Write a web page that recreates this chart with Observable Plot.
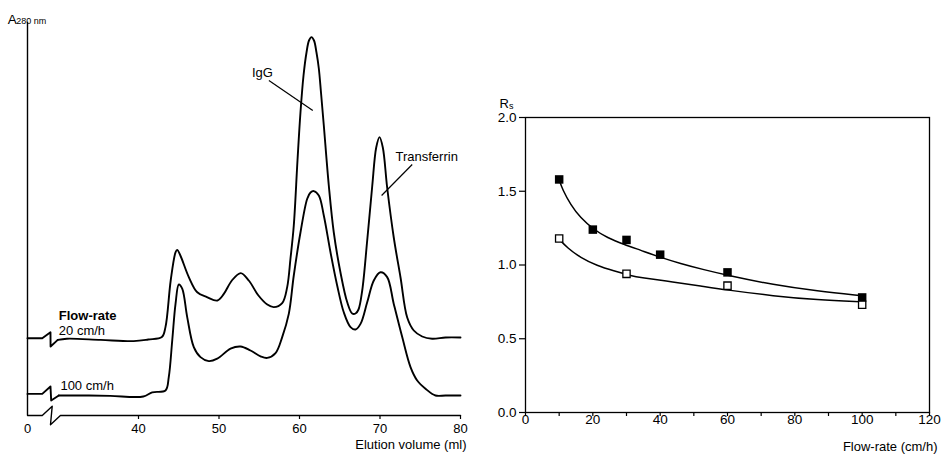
<!DOCTYPE html>
<html>
<head>
<meta charset="utf-8">
<script src="https://cdn.jsdelivr.net/npm/d3@7"></script>
<script src="https://cdn.jsdelivr.net/npm/@observablehq/plot@0.6"></script>
<style>
  html, body { margin: 0; padding: 0; background: #fff; }
  #figure { display: flex; width: 947px; height: 456px; }
  #figure svg { display: block; }
</style>
</head>
<body>
<div id="figure"></div>
<script>
// ---- Panel A: elution profiles at two flow-rates (A280, traces offset) ----
// Break symbol on the volume axis and at the start of each trace
const axisVol = [0, 14.5, 24.3, 22.6, 30.3, 80];
const axisAbs = [0, 0, 2.3, -2.3, 0, 0];

const break20Vol = [0, 14.5, 22.6, 22.7, 29.8];
const break20Abs = [19.3, 19.3, 20.8, 17.25, 18.9];
const break100Vol = [0, 14.5, 22.6, 23.3, 30.1];
const break100Abs = [5.4, 5.4, 7.25, 3.75, 5.0];

// 20 cm/h trace after the break
const vol20 = [29.8, 31.1, 35.3, 39.4, 41.2, 42.9, 43.35, 44.0, 44.6, 44.8, 45.2, 46.25, 47.3, 48.5, 49.8,
  50.6, 51.6, 52.7, 53.7, 54.9, 56.0, 56.8, 57.85, 58.47, 58.88, 59.29, 59.75, 60.12, 60.5, 60.87,
  61.18, 61.49, 61.8, 62.11, 62.4, 62.67, 63.02, 63.64, 64.26, 65.09, 65.93, 66.55, 66.96, 67.33,
  67.79, 68.41, 69.03, 69.53, 69.94, 70.35, 70.89, 71.71, 72.55, 73.38, 74.2, 75.24, 76.48, 78.14, 80];
const abs20 = [18.9, 19.2, 18.9, 18.6, 19.0, 19.6, 22.1, 33.75, 40.8, 41.4, 40.0, 34.6, 30.8, 29.6, 28.75,
  30.4, 33.75, 35.6, 33.75, 30.0, 27.75, 27.1, 28.1, 32.1, 39.25, 47.5, 63.75, 75.75, 85, 90.75,
  93.75, 94.6, 93.75, 90.75, 86.75, 80.75, 72.5, 57.5, 45.75, 35.75, 28.3, 25.5, 25.5, 26.5,
  31.25, 43.75, 57.25, 67, 69.6, 67, 57, 44.5, 34.5, 24.5, 21.25, 19.75, 19.2, 19.5, 19.5];

// 100 cm/h trace after the break
const vol100 = [30.1, 33.2, 36.5, 40.6, 41.7, 43.35, 43.76, 44.19, 44.6, 45.01, 45.43, 46.05, 46.87, 47.7,
  48.73, 49.78, 51.43, 52.67, 53.91, 55.16, 55.99, 57.02, 57.85, 58.67, 59.29, 60.12, 60.96, 61.37,
  61.78, 62.4, 63.02, 63.85, 64.68, 65.5, 66.34, 66.96, 67.58, 68.41, 69.23, 70.06, 70.89, 71.71,
  72.76, 73.79, 74.62, 75.65, 76.89, 78.14, 80];
const abs100 = [5.0, 5.0, 4.9, 4.75, 5.8, 6.25, 9.6, 18.75, 27.9, 32.75, 31.7, 24.6, 17.1, 14.6,
  13.6, 14.2, 16.7, 17.25, 16.25, 14.8, 14.4, 15.6, 19.6, 25.4, 35, 45.75, 54.2, 55.75,
  56.1, 55, 50, 40.8, 32.5, 25.8, 22.1, 21.5, 22.9, 28.3, 33.75, 35.8, 34.6, 27.9,
  19.6, 12.1, 8.75, 6.7, 5.0, 5.0, 5.0];

const volTicks = [0, 40, 50, 60, 70, 80];

// Peak labels and their leader lines
const peakLabels = ["IgG", "Transferrin"];
const peakLabelVol = [55.4, 75.8];
const peakLabelAbs = [85.75, 64.75];
const leaderVol1 = [56.2, 74.0];
const leaderAbs1 = [83.75, 62.75];
const leaderVol2 = [61.65, 70.2];
const leaderAbs2 = [76.25, 55.0];

// Flow-rate captions beside the traces
const flowTitle = "Flow-rate";
const flowTitleVol = 30.1;
const flowTitleAbs = 24.8;
const flowLabels = ["20 cm/h", "100 cm/h"];
const flowLabelVol = [30.1, 30.3];
const flowLabelAbs = [21.1, 7.5];

// ---- Panel B: resolution Rs versus flow-rate ----
const rateFilled = [10, 20, 30, 40, 60, 100];
const rsFilled = [1.58, 1.24, 1.17, 1.07, 0.95, 0.78];
const rateOpen = [10, 30, 60, 100];
const rsOpen = [1.18, 0.94, 0.86, 0.73];

// Fitted curves through each set
const fitFilledRate = [10, 11, 13.4, 16.3, 20.3, 24.3, 29.2, 34.2, 39.6, 46, 53, 60, 73.7, 86.6, 100];
const fitFilledRs = [1.58, 1.51, 1.41, 1.32, 1.24, 1.185, 1.14, 1.10, 1.055, 1.01, 0.968, 0.93, 0.865, 0.823, 0.792];
const fitOpenRate = [10, 12.4, 16.3, 21.3, 26.2, 31.2, 34.2, 44, 52, 60, 73.7, 86.6, 100];
const fitOpenRs = [1.175, 1.117, 1.05, 0.995, 0.96, 0.928, 0.915, 0.885, 0.858, 0.83, 0.79, 0.764, 0.75];

const rateTicks = [0, 10, 20, 30, 40, 50, 60, 70, 80, 90, 100, 110, 120];
const rsTicks = [0, 0.5, 1.0, 1.5, 2.0];

const rows = (xs, ys) => xs.map((x, i) => ({x, y: ys[i]}));
const font = "'Liberation Sans', Arial, Helvetica, sans-serif";
const baseStyle = {fontFamily: font, fontSize: "13px", color: "black", background: "white", overflow: "visible"};

const left = Plot.plot({
  width: 475,
  height: 456,
  marginLeft: 27,
  marginRight: 15,
  marginTop: 15,
  marginBottom: 41,
  style: baseStyle,
  x: {type: "linear", domain: [0, 30, 80], range: [27, 57.5, 460]},
  y: {domain: [0, 100], axis: null},
  marks: [
    Plot.ruleX([0], {y1: 0, y2: 98.3, stroke: "black", strokeWidth: 1.4}),
    Plot.line(rows(axisVol, axisAbs), {x: "x", y: "y", stroke: "black", strokeWidth: 1.4}),
    Plot.line(rows(break20Vol, break20Abs), {x: "x", y: "y", stroke: "black", strokeWidth: 1.9}),
    Plot.line(rows(break100Vol, break100Abs), {x: "x", y: "y", stroke: "black", strokeWidth: 1.9}),
    Plot.line(rows(vol20, abs20), {x: "x", y: "y", curve: "catmull-rom", stroke: "black", strokeWidth: 1.9}),
    Plot.line(rows(vol100, abs100), {x: "x", y: "y", curve: "catmull-rom", stroke: "black", strokeWidth: 1.9}),
    Plot.axisX(volTicks.slice(1), {tickSize: 4, tickFormat: () => "", label: null, strokeWidth: 1.2}),
    Plot.axisX(volTicks, {tickSize: 0, tickPadding: 8, label: null, fontSize: 13}),
    Plot.link(peakLabels, {
      x1: (d, i) => leaderVol1[i], y1: (d, i) => leaderAbs1[i],
      x2: (d, i) => leaderVol2[i], y2: (d, i) => leaderAbs2[i],
      stroke: "black", strokeWidth: 1.2
    }),
    Plot.text(peakLabels, {
      x: (d, i) => peakLabelVol[i], y: (d, i) => peakLabelAbs[i], text: d => d,
      fontSize: 13, fill: "black"
    }),
    Plot.text([flowTitle], {
      x: () => flowTitleVol, y: () => flowTitleAbs, text: d => d,
      textAnchor: "start", fontSize: 13, fontWeight: "bold", fill: "black"
    }),
    Plot.text(flowLabels, {
      x: (d, i) => flowLabelVol[i], y: (d, i) => flowLabelAbs[i], text: d => d,
      textAnchor: "start", fontSize: 13, fill: "black"
    }),
    Plot.text(["A"], {frameAnchor: "top-left", text: d => d, dx: -19.7, dy: -1.5, textAnchor: "start", fontSize: 13.5, fill: "black"}),
    Plot.text(["280 nm"], {frameAnchor: "top-left", text: d => d, dx: -11.3, dy: 2.5, textAnchor: "start", fontSize: 9, fill: "black"}),
    Plot.text(["Elution volume (ml)"], {frameAnchor: "bottom-right", text: d => d, dx: 6, dy: 33, textAnchor: "end", fontSize: 13, fill: "black"})
  ]
});

const right = Plot.plot({
  width: 472,
  height: 456,
  marginLeft: 50,
  marginRight: 18,
  marginTop: 117,
  marginBottom: 44,
  style: baseStyle,
  x: {domain: [0, 120]},
  y: {domain: [0, 2]},
  marks: [
    Plot.frame({stroke: "black", strokeWidth: 1.3}),
    Plot.axisY(rsTicks, {tickSize: 6, tickPadding: 3, tickFormat: d3.format(".1f"), label: null, fontSize: 13.5, strokeWidth: 1.2}),
    Plot.axisX(rateTicks, {tickSize: 4, tickPadding: -2, tickFormat: d => (d % 20 ? "" : d), label: null, fontSize: 13.5, strokeWidth: 1.2}),
    Plot.line(rows(fitFilledRate, fitFilledRs), {x: "x", y: "y", curve: "basis", stroke: "black", strokeWidth: 1.5}),
    Plot.line(rows(fitOpenRate, fitOpenRs), {x: "x", y: "y", curve: "basis", stroke: "black", strokeWidth: 1.5}),
    Plot.dot(rows(rateFilled, rsFilled), {x: "x", y: "y", symbol: "square", r: 4.8, fill: "black", stroke: "none"}),
    Plot.dot(rows(rateOpen, rsOpen), {x: "x", y: "y", symbol: "square", r: 4.1, fill: "white", stroke: "black", strokeWidth: 1.3}),
    Plot.text(["R"], {frameAnchor: "top-left", text: d => d, dx: -26, dy: -19, textAnchor: "start", fontSize: 13, fill: "black"}),
    Plot.text(["s"], {frameAnchor: "top-left", text: d => d, dx: -16.4, dy: -15, textAnchor: "start", fontSize: 9, fill: "black"}),
    Plot.text(["Flow-rate (cm/h)"], {frameAnchor: "bottom-right", text: d => d, dx: 8, dy: 38, textAnchor: "end", fontSize: 13, fill: "black"})
  ]
});

const fig = document.getElementById("figure");
fig.appendChild(left);
fig.appendChild(right);
</script>
</body>
</html>
